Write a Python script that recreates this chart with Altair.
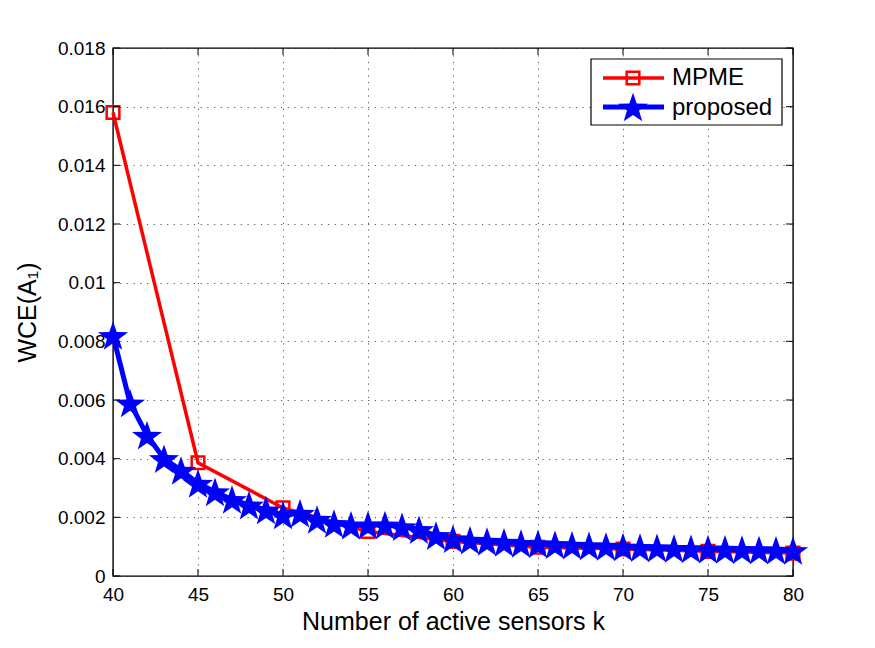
import math
import altair as alt
import pandas as pd

# ---------------- data ----------------
k_mpme = [40, 45, 50, 55, 60, 65, 70, 75, 80]
wce_mpme = [0.0158, 0.00386, 0.00232, 0.00152, 0.00118, 0.00098, 0.00092, 0.00084, 0.00078]

k_prop = list(range(40, 81))
wce_prop = [0.0082, 0.0059, 0.0048, 0.0040, 0.0036, 0.00316, 0.00287, 0.00261, 0.00242, 0.00225,
            0.00208, 0.00214, 0.00193, 0.00179, 0.00173, 0.00174, 0.00174, 0.00168, 0.00158, 0.00138,
            0.00127, 0.00122, 0.00118, 0.00115, 0.00111, 0.00110, 0.00107, 0.00105, 0.00103, 0.00101,
            0.00099, 0.00097, 0.00096, 0.00094, 0.00093, 0.00092, 0.00091, 0.00090, 0.00089, 0.00088,
            0.00087]

x_ticks = [40, 45, 50, 55, 60, 65, 70, 75, 80]
y_ticks = [0, 0.002, 0.004, 0.006, 0.008, 0.010, 0.012, 0.014, 0.016, 0.018]
legend_names = ["MPME", "proposed"]

x_title = "Number of active sensors k"
y_title = "WCE(A\u2081)"

df_m = pd.DataFrame({"k": k_mpme, "wce": wce_mpme})
df_p = pd.DataFrame({"k": k_prop, "wce": wce_prop})
df_xt = pd.DataFrame({"t": x_ticks})
df_yt = pd.DataFrame({"t": y_ticks})

W, H = 680, 528
FONT = "Liberation Sans"
RED = "#ff0000"
BLUE = "#0000ff"
STAR_SIZE = 1000
SQ_SIZE = 160

# five-pointed star path in [-1, 1]
pts = []
for i in range(10):
    r = 1.0 if i % 2 == 0 else 0.40
    a = math.radians(-90 + 36 * i)
    pts.append((r * math.cos(a), r * math.sin(a) + 0.1))
STAR = "M" + " L".join(f"{px:.3f},{py:.3f}" for px, py in pts) + " Z"

xs = alt.Scale(domain=[40, 80], nice=False, zero=False)
ys = alt.Scale(domain=[0, 0.018], nice=False)

GRID = dict(grid=True, gridDash=[1.2, 5.5], gridColor="#222", gridWidth=1, gridOpacity=0.75)

X = alt.X("k:Q", scale=xs, title=x_title,
          axis=alt.Axis(values=x_ticks, tickSize=0, domain=False, labelPadding=9,
                        labelFlush=False, titlePadding=5, **GRID))
Y = alt.Y("wce:Q", scale=ys, title=y_title,
          axis=alt.Axis(values=y_ticks, format="~g", tickSize=0, domain=False, labelPadding=8,
                        labelFlush=False, titlePadding=17, **GRID))

base_m = alt.Chart(df_m)
base_p = alt.Chart(df_p)

line_m = base_m.mark_line(color=RED, strokeWidth=3.5).encode(x=X, y=Y)
pts_m = base_m.mark_point(shape="square", color=RED, filled=False, strokeWidth=2.5, size=SQ_SIZE,
                          opacity=1).encode(x="k:Q", y="wce:Q")
line_p = base_p.mark_line(color=BLUE, strokeWidth=5).encode(x="k:Q", y="wce:Q")
pts_p = base_p.mark_point(shape=STAR, color=BLUE, fill=BLUE, filled=True, size=STAR_SIZE,
                          opacity=1, strokeWidth=0.5).encode(x="k:Q", y="wce:Q")

# inward ticks on all four sides
tick_len = 7
tb = alt.Chart(df_xt).mark_rule(color="black", strokeWidth=1).encode(
    x=alt.X("t:Q", scale=xs), y=alt.value(H), y2=alt.value(H - tick_len))
tt = alt.Chart(df_xt).mark_rule(color="black", strokeWidth=1).encode(
    x=alt.X("t:Q", scale=xs), y=alt.value(0), y2=alt.value(tick_len))
tl = alt.Chart(df_yt).mark_rule(color="black", strokeWidth=1).encode(
    y=alt.Y("t:Q", scale=ys), x=alt.value(0), x2=alt.value(tick_len))
tr = alt.Chart(df_yt).mark_rule(color="black", strokeWidth=1).encode(
    y=alt.Y("t:Q", scale=ys), x=alt.value(W), x2=alt.value(W - tick_len))

# legend
df_l0 = pd.DataFrame({"name": [legend_names[0]]})
df_l1 = pd.DataFrame({"name": [legend_names[1]]})
lbox = alt.Chart(df_l0).mark_rect(fill="white", stroke="black", strokeWidth=1.2).encode(
    x=alt.value(478), x2=alt.value(669), y=alt.value(11), y2=alt.value(77))
l0_line = alt.Chart(df_l0).mark_rule(color=RED, strokeWidth=3.5).encode(
    x=alt.value(490), x2=alt.value(551), y=alt.value(30))
l0_pt = alt.Chart(df_l0).mark_point(shape="square", color=RED, filled=False, strokeWidth=2.5,
                                    size=SQ_SIZE, opacity=1).encode(x=alt.value(520), y=alt.value(30))
l0_txt = alt.Chart(df_l0).mark_text(align="left", baseline="middle", font=FONT, fontSize=24,
                                    color="black").encode(x=alt.value(559), y=alt.value(30), text="name:N")
l1_line = alt.Chart(df_l1).mark_rule(color=BLUE, strokeWidth=5).encode(
    x=alt.value(490), x2=alt.value(551), y=alt.value(59))
l1_pt = alt.Chart(df_l1).mark_point(shape=STAR, color=BLUE, fill=BLUE, filled=True, size=STAR_SIZE,
                                    opacity=1, strokeWidth=0.5).encode(x=alt.value(520), y=alt.value(59))
l1_txt = alt.Chart(df_l1).mark_text(align="left", baseline="middle", font=FONT, fontSize=24,
                                    color="black").encode(x=alt.value(559), y=alt.value(60), text="name:N")

chart = alt.layer(
    line_m, pts_m, line_p, pts_p, tb, tt, tl, tr,
    lbox, l0_line, l0_pt, l0_txt, l1_line, l1_pt, l1_txt
).properties(
    width=W, height=H,
    autosize=alt.AutoSizeParams(type="none"),
    padding={"left": 113, "top": 48, "right": 82, "bottom": 72},
    background="white",
).configure_view(
    stroke="black", strokeWidth=1.4
).configure_axis(
    labelFont=FONT, labelFontSize=19, labelColor="black",
    titleFont=FONT, titleFontSize=25, titleColor="black", titleFontWeight="normal",
)

chart.save("out.html", embed_options={"renderer": "svg", "actions": False})
